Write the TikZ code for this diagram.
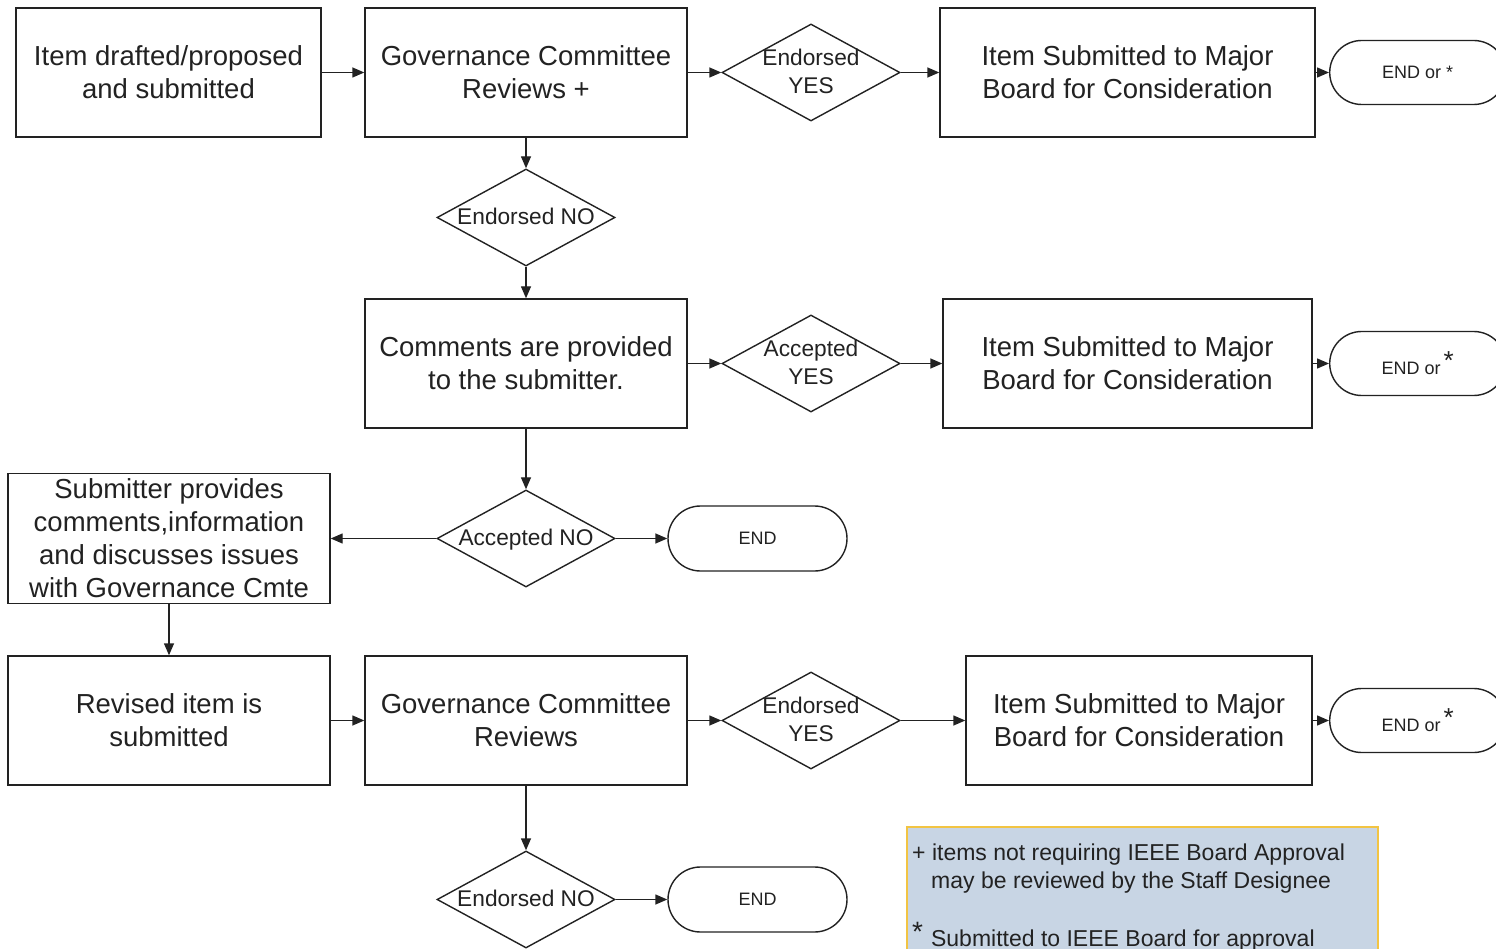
\documentclass[tikz,border=0pt]{standalone}
\usepackage{fontspec}
\setmainfont{Liberation Sans}
\usetikzlibrary{shapes.geometric,shapes.misc,arrows.meta}
\definecolor{ink}{HTML}{222222}
\definecolor{notefill}{HTML}{C8D5E4}
\definecolor{noteline}{HTML}{F2C443}
\newcommand\dtext[1]{\makebox[0pt]{\raisebox{-0.3em}[0pt][0pt]{\begin{tabular}{@{}c@{}}#1\end{tabular}}}}
\newcommand\bigast{\,\raisebox{5pt}{\fontsize{26}{26}\selectfont *}}
\begin{document}
\begin{tikzpicture}[x=1pt,y=-1pt,
  box/.style={draw=ink, line width=1.4pt, text=ink, align=center,
    font=\fontsize{27.5}{33}\selectfont, inner sep=0pt, minimum height=129pt},
  dia/.style={draw=ink, line width=1.4pt, shape=diamond, inner sep=0pt,
    minimum width=178pt, minimum height=97pt, text=ink,
    font=\fontsize{22.7}{28}\selectfont},
  term/.style={draw=ink, line width=1.4pt, rounded rectangle, minimum height=64pt,
    inner sep=0pt, text=ink, font=\fontsize{18}{22}\selectfont},
  arr/.style={draw=ink, line width=1.4pt, -{Triangle[length=12pt,width=10pt]}},
  notetext/.style={anchor=base west, inner sep=0pt, text=ink,
    font=\fontsize{23}{28}\selectfont}]
\useasboundingbox (0,0) rectangle (1496,949);
\fill[white] (0,0) rectangle (1496,949);
% row 1
\node[box, minimum width=305pt] (a) at (168.5,72.5) {Item drafted/proposed\\and submitted};
\node[box, minimum width=322pt] (b) at (526,72.5) {Governance Committee\\Reviews +};
\node[dia] (d1) at (811,72.5) {\dtext{Endorsed\\YES}};
\node[box, minimum width=375pt] (c) at (1127.5,72.5) {Item Submitted to Major\\Board for Consideration};
\node[term, anchor=west, minimum width=176pt] (e1) at (1329,72.5) {END or *};
% row 2
\node[dia] (d2) at (526,217.5) {\dtext{Endorsed NO}};
% row 3
\node[box, minimum width=322pt] (f) at (526,363.5) {Comments are provided\\to the submitter.};
\node[dia] (d3) at (811,363.5) {\dtext{Accepted\\YES}};
\node[box, minimum width=369pt] (g) at (1127.5,363.5) {Item Submitted to Major\\Board for Consideration};
\node[term, anchor=west, minimum width=176pt] (e2) at (1329,363.5) {END or\bigast};
% row 4
\node[dia] (d4) at (526,538.5) {\dtext{Accepted NO}};
\node[term, minimum width=179pt, minimum height=65pt] (e3) at (757.5,538.5) {END};
\node[box, minimum width=322pt, minimum height=130pt] (h) at (169,538.5) {Submitter provides\\comments,information\\and discusses issues\\with Governance Cmte};
% row 5
\node[box, minimum width=322pt] (i) at (169,720.5) {Revised item is\\submitted};
\node[box, minimum width=322pt] (j) at (526,720.5) {Governance Committee\\Reviews};
\node[dia] (d5) at (811,720.5) {\dtext{Endorsed\\YES}};
\node[box, minimum width=346pt] (k) at (1139,720.5) {Item Submitted to Major\\Board for Consideration};
\node[term, anchor=west, minimum width=176pt] (e4) at (1329,720.5) {END or\bigast};
% row 6
\node[dia] (d6) at (526,899.5) {\dtext{Endorsed NO}};
\node[term, minimum width=179pt, minimum height=65pt] (e5) at (757.5,899.5) {END};
% note
\draw[fill=notefill, draw=noteline, line width=1.5pt] (907,827) rectangle (1378,962);
\node[notetext] (n1) at (912,860) {+ items not requiring IEEE Board Approval};
\node[notetext] (n2) at (931,888) {may be reviewed by the Staff Designee};
\node[notetext] (n3) at (912,946) {\raisebox{5pt}{\fontsize{28}{28}\selectfont *}\hspace{8pt}Submitted to IEEE Board for approval};
% connectors
\draw[arr] (a) -- (b);
\draw[arr] (b) -- (d1);
\draw[arr] (d1) -- (c);
\draw[arr] (c) -- (e1);
\draw[arr] (b) -- (d2);
\draw[arr] (d2) -- (f);
\draw[arr] (f) -- (d3);
\draw[arr] (d3) -- (g);
\draw[arr] (g) -- (e2);
\draw[arr] (f) -- (d4);
\draw[arr] (d4) -- (h);
\draw[arr] (d4) -- (e3);
\draw[arr] (h) -- (i);
\draw[arr] (i) -- (j);
\draw[arr] (j) -- (d5);
\draw[arr] (d5) -- (k);
\draw[arr] (k) -- (e4);
\draw[arr] (j) -- (d6);
\draw[arr] (d6) -- (e5);
\end{tikzpicture}
\end{document}
